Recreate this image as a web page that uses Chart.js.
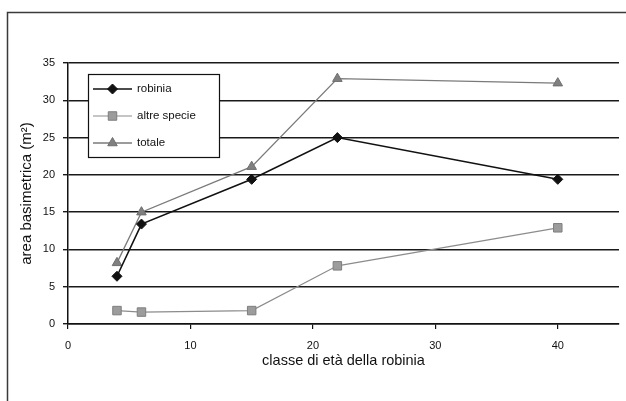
<!DOCTYPE html>
<html>
<head>
<meta charset="utf-8">
<script src="https://cdn.jsdelivr.net/npm/chart.js@4/dist/chart.umd.min.js"></script>
<style>
  html, body { margin: 0; padding: 0; background: #fff; }
  #wrap { width: 626px; height: 401px; position: relative; }
</style>
</head>
<body>
<div id="wrap"><canvas id="c" width="626" height="401"></canvas></div>
<script>
// ---- data ----
const ages = [4, 6, 15, 22, 40];
const robinia = [6.4, 13.4, 19.4, 25.0, 19.4];
const altreSpecie = [1.8, 1.6, 1.8, 7.8, 12.9];
const totale = [8.2, 15.0, 21.1, 32.9, 32.3];
const seriesLabels = ['robinia', 'altre specie', 'totale'];
const xTicks = [0, 10, 20, 30, 40];
const yTicks = [0, 5, 10, 15, 20, 25, 30, 35];
const xTitle = 'classe di età della robinia';
const yTitle = 'area basimetrica (m²)';

const FONT = "'Liberation Sans', Arial, Helvetica, sans-serif";
const toPts = (ys) => ages.map((x, i) => ({ x: x, y: ys[i] }));

function drawMarker(ctx, style, x, y, r) {
  ctx.beginPath();
  if (style === 'rectRot') {
    ctx.moveTo(x, y - r); ctx.lineTo(x + r, y); ctx.lineTo(x, y + r); ctx.lineTo(x - r, y); ctx.closePath();
  } else if (style === 'rect') {
    const s = r * Math.SQRT1_2;
    ctx.rect(x - s, y - s, 2 * s, 2 * s);
  } else if (style === 'triangle') {
    ctx.moveTo(x, y - r);
    ctx.lineTo(x + r * Math.sin(Math.PI / 3), y + r * 0.5);
    ctx.lineTo(x - r * Math.sin(Math.PI / 3), y + r * 0.5);
    ctx.closePath();
  }
  ctx.fill();
  ctx.stroke();
}

const framePlugin = {
  id: 'frame',
  beforeDraw(chart) {
    const ctx = chart.ctx;
    ctx.save();
    ctx.fillStyle = '#ffffff';
    ctx.fillRect(0, 0, chart.width, chart.height);
    ctx.strokeStyle = '#3a3a3a';
    ctx.lineWidth = 1.5;
    ctx.beginPath();
    ctx.moveTo(7.5, chart.height);
    ctx.lineTo(7.5, 12.5);
    ctx.lineTo(chart.width, 12.5);
    ctx.stroke();
    ctx.restore();
  }
};

const legendBoxPlugin = {
  id: 'legendBox',
  afterDatasetsDraw(chart) {
    const ctx = chart.ctx;
    ctx.save();
    const bx = 88.5, by = 74.5, bw = 131, bh = 83;
    ctx.fillStyle = '#ffffff';
    ctx.fillRect(bx, by, bw, bh);
    ctx.strokeStyle = '#111';
    ctx.lineWidth = 1.2;
    ctx.strokeRect(bx, by, bw, bh);
    const rows = [89, 116, 143];
    chart.data.datasets.forEach((ds, i) => {
      const y = rows[i];
      ctx.strokeStyle = ds.borderColor;
      ctx.lineWidth = ds.borderWidth;
      ctx.beginPath();
      ctx.moveTo(93, y); ctx.lineTo(132, y);
      ctx.stroke();
      ctx.fillStyle = ds.pointBackgroundColor;
      ctx.strokeStyle = ds.pointBorderColor;
      ctx.lineWidth = 1;
      drawMarker(ctx, ds.pointStyle, 112.5, y, ds.pointRadius);
      ctx.fillStyle = '#111';
      ctx.font = '11.5px ' + FONT;
      ctx.textBaseline = 'middle';
      ctx.textAlign = 'left';
      ctx.fillText(ds.label, 137, y);
    });
    ctx.restore();
  }
};

new Chart(document.getElementById('c'), {
  type: 'line',
  data: {
    datasets: [
      {
        label: seriesLabels[0], data: toPts(robinia),
        borderColor: '#111111', borderWidth: 1.6,
        pointStyle: 'rectRot', pointRadius: 5, pointHoverRadius: 5,
        pointBackgroundColor: '#111111', pointBorderColor: '#111111', pointBorderWidth: 1
      },
      {
        label: seriesLabels[1], data: toPts(altreSpecie),
        borderColor: '#8c8c8c', borderWidth: 1.2,
        pointStyle: 'rect', pointRadius: 6, pointHoverRadius: 6,
        pointBackgroundColor: '#9c9c9c', pointBorderColor: '#7e7e7e', pointBorderWidth: 1
      },
      {
        label: seriesLabels[2], data: toPts(totale),
        borderColor: '#7a7a7a', borderWidth: 1.3,
        pointStyle: 'triangle', pointRadius: 5.5, pointHoverRadius: 5.5,
        pointBackgroundColor: '#808080', pointBorderColor: '#6e6e6e', pointBorderWidth: 1
      }
    ]
  },
  options: {
    responsive: false,
    animation: false,
    layout: { padding: { left: 0, right: 5, top: 63, bottom: 0 } },
    plugins: { legend: { display: false }, tooltip: { enabled: false } },
    elements: { line: { tension: 0 } },
    scales: {
      x: {
        type: 'linear', min: 0, max: 45,
        afterBuildTicks: (s) => { s.ticks = xTicks.map(v => ({ value: v })); },
        afterFit: (s) => { s.height = 77; },
        grid: { drawOnChartArea: false, drawTicks: true, tickLength: 5, color: '#111', lineWidth: 1.2 },
        border: { display: true, color: '#111', width: 1.5 },
        ticks: { padding: 10, color: '#111', font: { family: FONT, size: 11 }, maxRotation: 0 },
        title: { display: true, text: xTitle, color: '#111', font: { family: FONT, size: 14.5 }, padding: { top: 0, bottom: 31 } }
      },
      y: {
        type: 'linear', min: 0, max: 35,
        afterBuildTicks: (s) => { s.ticks = yTicks.map(v => ({ value: v })); },
        afterFit: (s) => { s.width = 68; },
        grid: { drawOnChartArea: true, drawTicks: true, tickLength: 5, color: '#1a1a1a', lineWidth: 1.4 },
        border: { display: true, color: '#111', width: 1.5 },
        ticks: { padding: 8, color: '#111', font: { family: FONT, size: 11 } },
        title: { display: true, text: yTitle, color: '#111', font: { family: FONT, size: 15 }, padding: { top: 18, bottom: 0 } }
      }
    }
  },
  plugins: [framePlugin, legendBoxPlugin]
});
</script>
</body>
</html>
